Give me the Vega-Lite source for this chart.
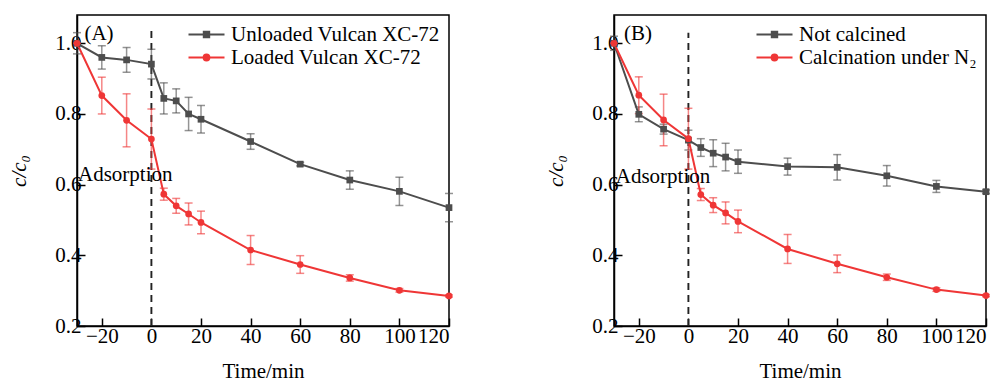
{
  "$schema": "https://vega.github.io/schema/vega-lite/v6.json",
  "background": "white",
  "padding": {"left": 8, "top": 14, "right": 5, "bottom": 0},
  "spacing": 91,
  "config": {
    "font": "Liberation Serif",
    "view": {"stroke": "#000", "strokeWidth": 1.5},
    "axis": {"labelFont": "Liberation Serif", "labelFontSize": 21, "titleFont": "Liberation Serif", "titleFontSize": 21, "titleFontWeight": "normal", "labelColor": "#000", "titleColor": "#000", "domainColor": "#000", "domainWidth": 1.5, "tickColor": "#000", "tickWidth": 1.5, "tickSize": -8, "grid": false},
    "axisX": {"labelPadding": 7, "titlePadding": 14},
    "axisY": {"labelPadding": 4, "titlePadding": 25},
    "legend": {"labelFont": "Liberation Serif", "labelFontSize": 21, "labelColor": "#000", "labelLimit": 0, "padding": 0, "rowPadding": 1, "symbolSize": 324, "symbolStrokeWidth": 2, "labelOffset": 14, "offset": 9, "orient": "top-right"}
  },
  "datasets": {
    "pts": [
      {"panel": "A", "series": "Unloaded Vulcan XC-72", "t": -30, "v": 1.0, "err": 0.03},
      {"panel": "A", "series": "Unloaded Vulcan XC-72", "t": -20, "v": 0.960, "err": 0.033},
      {"panel": "A", "series": "Unloaded Vulcan XC-72", "t": -10, "v": 0.953, "err": 0.035},
      {"panel": "A", "series": "Unloaded Vulcan XC-72", "t": 0, "v": 0.941, "err": 0.042},
      {"panel": "A", "series": "Unloaded Vulcan XC-72", "t": 5, "v": 0.844, "err": 0.044},
      {"panel": "A", "series": "Unloaded Vulcan XC-72", "t": 10, "v": 0.837, "err": 0.034},
      {"panel": "A", "series": "Unloaded Vulcan XC-72", "t": 15, "v": 0.800, "err": 0.047},
      {"panel": "A", "series": "Unloaded Vulcan XC-72", "t": 20, "v": 0.785, "err": 0.039},
      {"panel": "A", "series": "Unloaded Vulcan XC-72", "t": 40, "v": 0.722, "err": 0.022},
      {"panel": "A", "series": "Unloaded Vulcan XC-72", "t": 60, "v": 0.658, "err": 0.005},
      {"panel": "A", "series": "Unloaded Vulcan XC-72", "t": 80, "v": 0.613, "err": 0.026},
      {"panel": "A", "series": "Unloaded Vulcan XC-72", "t": 100, "v": 0.581, "err": 0.040},
      {"panel": "A", "series": "Unloaded Vulcan XC-72", "t": 120, "v": 0.535, "err": 0.040},
      {"panel": "A", "series": "Loaded Vulcan XC-72", "t": -30, "v": 1.0, "err": 0},
      {"panel": "A", "series": "Loaded Vulcan XC-72", "t": -20, "v": 0.852, "err": 0.052},
      {"panel": "A", "series": "Loaded Vulcan XC-72", "t": -10, "v": 0.782, "err": 0.075},
      {"panel": "A", "series": "Loaded Vulcan XC-72", "t": 0, "v": 0.729, "err": 0.085},
      {"panel": "A", "series": "Loaded Vulcan XC-72", "t": 5, "v": 0.573, "err": 0.017},
      {"panel": "A", "series": "Loaded Vulcan XC-72", "t": 10, "v": 0.540, "err": 0.021},
      {"panel": "A", "series": "Loaded Vulcan XC-72", "t": 15, "v": 0.517, "err": 0.031},
      {"panel": "A", "series": "Loaded Vulcan XC-72", "t": 20, "v": 0.493, "err": 0.032},
      {"panel": "A", "series": "Loaded Vulcan XC-72", "t": 40, "v": 0.415, "err": 0.041},
      {"panel": "A", "series": "Loaded Vulcan XC-72", "t": 60, "v": 0.374, "err": 0.025},
      {"panel": "A", "series": "Loaded Vulcan XC-72", "t": 80, "v": 0.336, "err": 0.009},
      {"panel": "A", "series": "Loaded Vulcan XC-72", "t": 100, "v": 0.301, "err": 0.005},
      {"panel": "A", "series": "Loaded Vulcan XC-72", "t": 120, "v": 0.285, "err": 0.003},
      {"panel": "B", "series": "Not calcined", "t": -30, "v": 1.0, "err": 0.02},
      {"panel": "B", "series": "Not calcined", "t": -20, "v": 0.799, "err": 0.021},
      {"panel": "B", "series": "Not calcined", "t": -10, "v": 0.757, "err": 0.014},
      {"panel": "B", "series": "Not calcined", "t": 0, "v": 0.726, "err": 0.028},
      {"panel": "B", "series": "Not calcined", "t": 5, "v": 0.705, "err": 0.025},
      {"panel": "B", "series": "Not calcined", "t": 10, "v": 0.689, "err": 0.038},
      {"panel": "B", "series": "Not calcined", "t": 15, "v": 0.678, "err": 0.039},
      {"panel": "B", "series": "Not calcined", "t": 20, "v": 0.665, "err": 0.033},
      {"panel": "B", "series": "Not calcined", "t": 40, "v": 0.651, "err": 0.024},
      {"panel": "B", "series": "Not calcined", "t": 60, "v": 0.649, "err": 0.036},
      {"panel": "B", "series": "Not calcined", "t": 80, "v": 0.625, "err": 0.029},
      {"panel": "B", "series": "Not calcined", "t": 100, "v": 0.595, "err": 0.017},
      {"panel": "B", "series": "Not calcined", "t": 120, "v": 0.580, "err": 0.005},
      {"panel": "B", "series": "Calcination under N₂", "t": -30, "v": 1.0, "err": 0},
      {"panel": "B", "series": "Calcination under N₂", "t": -20, "v": 0.853, "err": 0.052},
      {"panel": "B", "series": "Calcination under N₂", "t": -10, "v": 0.783, "err": 0.073},
      {"panel": "B", "series": "Calcination under N₂", "t": 0, "v": 0.730, "err": 0.086},
      {"panel": "B", "series": "Calcination under N₂", "t": 5, "v": 0.572, "err": 0.017},
      {"panel": "B", "series": "Calcination under N₂", "t": 10, "v": 0.542, "err": 0.021},
      {"panel": "B", "series": "Calcination under N₂", "t": 15, "v": 0.520, "err": 0.031},
      {"panel": "B", "series": "Calcination under N₂", "t": 20, "v": 0.496, "err": 0.032},
      {"panel": "B", "series": "Calcination under N₂", "t": 40, "v": 0.418, "err": 0.041},
      {"panel": "B", "series": "Calcination under N₂", "t": 60, "v": 0.376, "err": 0.025},
      {"panel": "B", "series": "Calcination under N₂", "t": 80, "v": 0.338, "err": 0.009},
      {"panel": "B", "series": "Calcination under N₂", "t": 100, "v": 0.303, "err": 0.005},
      {"panel": "B", "series": "Calcination under N₂", "t": 120, "v": 0.286, "err": 0.003}
    ]
  },
  "resolve": {"scale": {"color": "independent", "stroke": "independent", "shape": "independent"}, "legend": {"color": "independent", "stroke": "independent", "shape": "independent"}},
  "hconcat": [
    {
      "width": 372, "height": 311,
      "data": {"name": "pts"},
      "encoding": {
        "x": {"field": "t", "type": "quantitative", "scale": {"domain": [-30, 120], "nice": false, "zero": false}, "axis": {"title": "Time/min", "values": [-20, 0, 20, 40, 60, 80, 100, 120]}},
        "y": {"field": "v", "type": "quantitative", "scale": {"domain": [0.2, 1.08], "nice": false, "zero": false}, "axis": {"title": "c/c₀", "titleFontStyle": "italic", "values": [0.2, 0.4, 0.6, 0.8, 1.0], "format": ".1f"}}
      },
      "layer": [
        {"transform": [{"filter": "datum.panel == 'A' && datum.t == -30 && datum.err == 0"}],
         "mark": {"type": "rule", "strokeDash": [7, 5], "color": "#222", "strokeWidth": 1.9}, "encoding": {"x": {"datum": 0, "type": "quantitative"}, "y": {"datum": 0.2, "type": "quantitative"}, "y2": {"datum": 1.035}}},
        {"transform": [{"filter": "datum.panel == 'A'"}],
         "mark": {"type": "errorbar", "ticks": {"size": 8, "thickness": 1.5}, "thickness": 1.5, "opacity": 0.6},
         "encoding": {"y": {"field": "v", "type": "quantitative"}, "yError": {"field": "err"}, "color": {"condition": {"test": "datum.series === 'Loaded Vulcan XC-72'", "value": "#ef3636"}, "value": "#4d4d4d"}}},
        {"transform": [{"filter": "datum.panel == 'A'"}],
         "mark": {"type": "line", "strokeWidth": 2},
         "encoding": {"detail": {"field": "series", "type": "nominal"}, "color": {"condition": {"test": "datum.series === 'Loaded Vulcan XC-72'", "value": "#ef3636"}, "value": "#4d4d4d"}}},
        {"transform": [{"filter": "datum.panel == 'A'"}],
         "mark": {"type": "point", "filled": true, "size": 45, "opacity": 1},
         "encoding": {"color": {"condition": {"test": "datum.series === 'Loaded Vulcan XC-72'", "value": "#ef3636"}, "value": "#4d4d4d"}, "shape": {"condition": {"test": "datum.series === 'Loaded Vulcan XC-72'", "value": "circle"}, "value": "square"}}},
        {"transform": [{"filter": "datum.panel == 'A' && datum.t > 500"}],
         "mark": {"type": "point", "filled": true, "opacity": 1},
         "encoding": {
           "color": {"field": "series", "type": "nominal", "scale": {"domain": ["Unloaded Vulcan XC-72", "Loaded Vulcan XC-72"], "range": ["#4d4d4d", "#ef3636"]}, "legend": {"title": null}},
           "stroke": {"field": "series", "type": "nominal", "scale": {"domain": ["Unloaded Vulcan XC-72", "Loaded Vulcan XC-72"], "range": ["#4d4d4d", "#ef3636"]}, "legend": {"title": null}},
           "shape": {"field": "series", "type": "nominal", "scale": {"domain": ["Unloaded Vulcan XC-72", "Loaded Vulcan XC-72"], "range": ["M-2,0H2M-0.3,-0.3H0.3V0.3H-0.3Z", "M-2,0H2M0.32,0A0.32,0.32 0 1,1 -0.32,0A0.32,0.32 0 1,1 0.32,0Z"]}, "legend": {"title": null}}
         }},
        {"transform": [{"filter": "datum.panel == 'A' && datum.t == -30 && datum.err == 0"}],
         "mark": {"type": "text", "font": "Liberation Serif", "fontSize": 21, "align": "left", "baseline": "middle", "color": "#000"}, "encoding": {"x": {"datum": -27, "type": "quantitative"}, "y": {"datum": 1.027, "type": "quantitative"}, "text": {"value": "(A)"}}},
        {"transform": [{"filter": "datum.panel == 'A' && datum.t == -30 && datum.err == 0"}],
         "mark": {"type": "text", "font": "Liberation Serif", "fontSize": 21, "align": "left", "baseline": "middle", "color": "#000"}, "encoding": {"x": {"datum": -29.6, "type": "quantitative"}, "y": {"datum": 0.627, "type": "quantitative"}, "text": {"value": "Adsorption"}}}
      ]
    },
    {
      "width": 372, "height": 311,
      "data": {"name": "pts"},
      "encoding": {
        "x": {"field": "t", "type": "quantitative", "scale": {"domain": [-30, 120], "nice": false, "zero": false}, "axis": {"title": "Time/min", "values": [-20, 0, 20, 40, 60, 80, 100, 120]}},
        "y": {"field": "v", "type": "quantitative", "scale": {"domain": [0.2, 1.08], "nice": false, "zero": false}, "axis": {"title": "c/c₀", "titleFontStyle": "italic", "values": [0.2, 0.4, 0.6, 0.8, 1.0], "format": ".1f"}}
      },
      "layer": [
        {"transform": [{"filter": "datum.panel == 'B' && datum.t == -30 && datum.err == 0"}],
         "mark": {"type": "rule", "strokeDash": [7, 5], "color": "#222", "strokeWidth": 1.9}, "encoding": {"x": {"datum": 0, "type": "quantitative"}, "y": {"datum": 0.2, "type": "quantitative"}, "y2": {"datum": 1.03}}},
        {"transform": [{"filter": "datum.panel == 'B'"}],
         "mark": {"type": "errorbar", "ticks": {"size": 8, "thickness": 1.5}, "thickness": 1.5, "opacity": 0.6},
         "encoding": {"y": {"field": "v", "type": "quantitative"}, "yError": {"field": "err"}, "color": {"condition": {"test": "datum.series !== 'Not calcined'", "value": "#ef3636"}, "value": "#4d4d4d"}}},
        {"transform": [{"filter": "datum.panel == 'B'"}],
         "mark": {"type": "line", "strokeWidth": 2},
         "encoding": {"detail": {"field": "series", "type": "nominal"}, "color": {"condition": {"test": "datum.series !== 'Not calcined'", "value": "#ef3636"}, "value": "#4d4d4d"}}},
        {"transform": [{"filter": "datum.panel == 'B'"}],
         "mark": {"type": "point", "filled": true, "size": 45, "opacity": 1},
         "encoding": {"color": {"condition": {"test": "datum.series !== 'Not calcined'", "value": "#ef3636"}, "value": "#4d4d4d"}, "shape": {"condition": {"test": "datum.series !== 'Not calcined'", "value": "circle"}, "value": "square"}}},
        {"transform": [{"filter": "datum.panel == 'B' && datum.t > 500"}],
         "mark": {"type": "point", "filled": true, "opacity": 1},
         "encoding": {
           "color": {"field": "series", "type": "nominal", "scale": {"domain": ["Not calcined", "Calcination under N₂"], "range": ["#4d4d4d", "#ef3636"]}, "legend": {"title": null}},
           "stroke": {"field": "series", "type": "nominal", "scale": {"domain": ["Not calcined", "Calcination under N₂"], "range": ["#4d4d4d", "#ef3636"]}, "legend": {"title": null}},
           "shape": {"field": "series", "type": "nominal", "scale": {"domain": ["Not calcined", "Calcination under N₂"], "range": ["M-2,0H2M-0.3,-0.3H0.3V0.3H-0.3Z", "M-2,0H2M0.32,0A0.32,0.32 0 1,1 -0.32,0A0.32,0.32 0 1,1 0.32,0Z"]}, "legend": {"title": null}}
         }},
        {"transform": [{"filter": "datum.panel == 'B' && datum.t == -30 && datum.err == 0"}],
         "mark": {"type": "text", "font": "Liberation Serif", "fontSize": 21, "align": "left", "baseline": "middle", "color": "#000"}, "encoding": {"x": {"datum": -26, "type": "quantitative"}, "y": {"datum": 1.027, "type": "quantitative"}, "text": {"value": "(B)"}}},
        {"transform": [{"filter": "datum.panel == 'B' && datum.t == -30 && datum.err == 0"}],
         "mark": {"type": "text", "font": "Liberation Serif", "fontSize": 21, "align": "left", "baseline": "middle", "color": "#000"}, "encoding": {"x": {"datum": -29.3, "type": "quantitative"}, "y": {"datum": 0.622, "type": "quantitative"}, "text": {"value": "Adsorption"}}}
      ]
    }
  ]
}
